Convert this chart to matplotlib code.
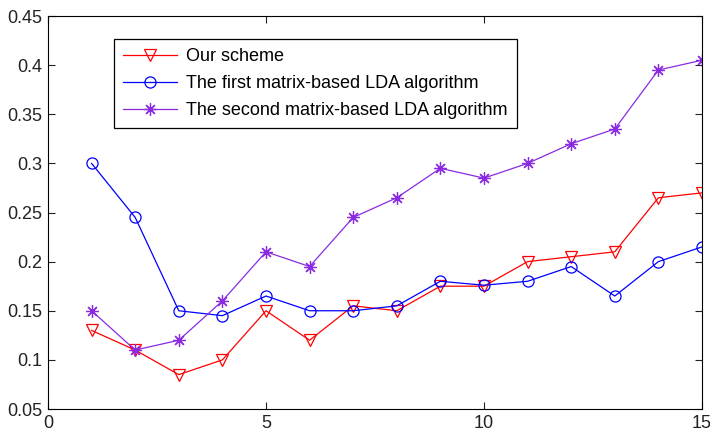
import matplotlib
matplotlib.use("Agg")
import matplotlib.pyplot as plt

plt.rcParams['font.family'] = ['Liberation Sans', 'DejaVu Sans']

x = list(range(1, 16))
ours = [0.13, 0.11, 0.085, 0.10, 0.15, 0.12, 0.155, 0.15, 0.175, 0.175,
        0.20, 0.205, 0.21, 0.265, 0.27]
first = [0.30, 0.245, 0.15, 0.145, 0.165, 0.15, 0.15, 0.155, 0.18, 0.176,
         0.18, 0.195, 0.165, 0.20, 0.215]
second = [0.15, 0.11, 0.12, 0.16, 0.21, 0.195, 0.245, 0.265, 0.295, 0.285,
          0.30, 0.32, 0.335, 0.395, 0.405]

labels = ['Our scheme',
          'The first matrix-based LDA algorithm',
          'The second matrix-based LDA algorithm']
xticks = [0, 5, 10, 15]
yticks = [0.05, 0.1, 0.15, 0.2, 0.25, 0.3, 0.35, 0.4, 0.45]
yticklabels = ['0.05', '0.1', '0.15', '0.2', '0.25', '0.3', '0.35', '0.4', '0.45']

fig = plt.figure(figsize=(7.1, 4.34), dpi=100)
ax = fig.add_axes([0.0676, 0.0576, 0.9211, 0.9055])

ax.plot(x, ours, color='#ff0000', lw=0.9, marker='v', ms=9,
        mfc='none', mec='#ff0000', mew=0.9, label=labels[0])
ax.plot(x, first, color='#0000ff', lw=0.9, marker='o', ms=8,
        mfc='none', mec='#0000ff', mew=0.9, label=labels[1])
ax.plot(x, second, color='#8a2be2', lw=0.9, marker=(8, 2, 0), ms=9,
        mec='#8a2be2', mew=0.9, label=labels[2])

ax.set_xlim(0, 15)
ax.set_ylim(0.05, 0.45)
ax.set_xticks(xticks)
ax.set_yticks(yticks)
ax.set_yticklabels(yticklabels)
ax.tick_params(direction='in', top=True, right=True, length=5,
               labelsize=13, width=0.8, pad=4, colors='#222222')
for s in ax.spines.values():
    s.set_linewidth(0.8)

leg = ax.legend(loc='upper left', bbox_to_anchor=(0.101, 0.941),
                borderaxespad=0, fontsize=13, fancybox=False,
                edgecolor='black', framealpha=1, handlelength=3.0,
                handletextpad=0.5, labelspacing=0.55, borderpad=0.5)
leg.get_frame().set_linewidth(0.9)

fig.savefig('out.png', dpi=100)
